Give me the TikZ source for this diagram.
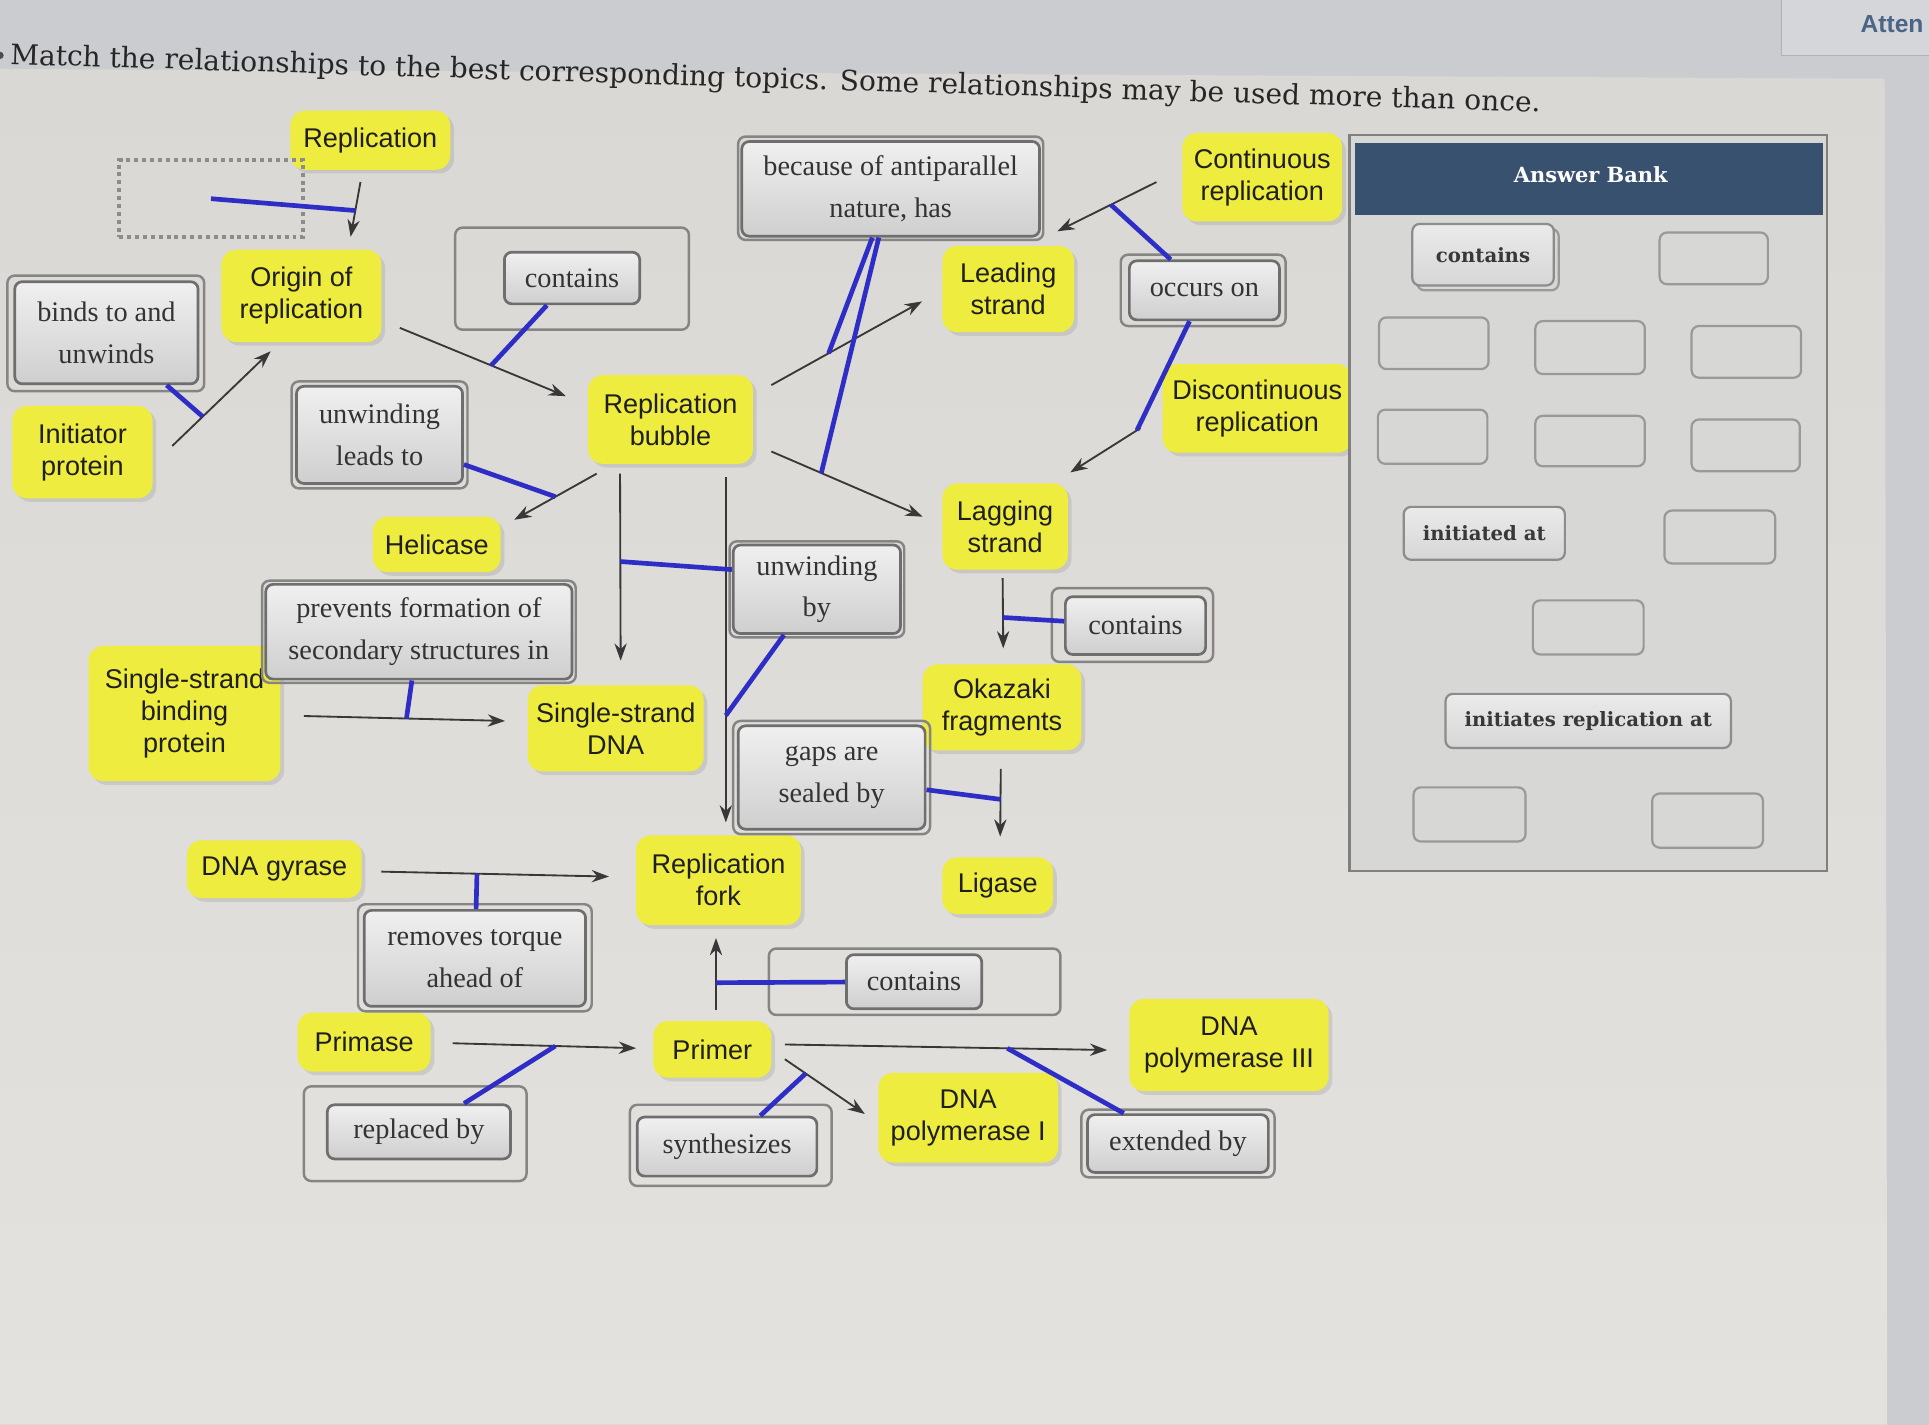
\documentclass[tikz,border=0pt]{standalone}
\usepackage{fontspec}
\setmainfont{Liberation Serif}
\newfontfamily\ysans{Liberation Sans}
\newfontfamily\dvserif{DejaVu Serif}
\usetikzlibrary{calc,shadows,arrows.meta}
\definecolor{ybox}{HTML}{EEEC3F}
\definecolor{bline}{HTML}{2E2EC6}
\definecolor{aline}{HTML}{383838}
\definecolor{navy}{HTML}{37516F}
\definecolor{bgtop}{HTML}{CBCCCF}
\definecolor{panelA}{HTML}{D9D8D4}
\definecolor{panelB}{HTML}{E3E2DF}
\definecolor{framec}{HTML}{858585}
\definecolor{cardb}{HTML}{6E6E6E}
\definecolor{bankbg}{HTML}{D7D7D6}
\definecolor{attc}{HTML}{4A6587}
\begin{document}
\begin{tikzpicture}[x=0.5pt,y=-0.5pt,
  sz/.style 2 args={minimum width=#1pt, minimum height=#2pt},
  yel/.style={fill=ybox, rounded corners=6pt, inner sep=0pt, align=center, text=black!88,
    font=\ysans\fontsize{11}{13}\selectfont,
    drop shadow={opacity=0.22, shadow xshift=1.5pt, shadow yshift=-1.5pt}},
  frm/.style={draw=framec, line width=1pt, rounded corners=3pt, inner sep=0pt},
  crd/.style={draw=cardb, line width=1.1pt, rounded corners=3pt, inner sep=0pt,
    top color=black!6, bottom color=black!19, align=center, text=black!80,
    font=\fontsize{11.5}{17}\selectfont},
  arr/.style={draw=aline, line width=0.75pt, -{Stealth[length=7pt,width=5pt]}},
  bl/.style={draw=bline, line width=1.9pt},
  ebox/.style={draw=black!40, line width=0.9pt, rounded corners=3pt},
  bank/.style={draw=black!45, line width=0.9pt, rounded corners=3pt, inner sep=0pt,
    top color=black!8, bottom color=black!16, text=black!78,
    font=\dvserif\bfseries\fontsize{8}{10}\selectfont}]
\useasboundingbox (0,0) rectangle (1568,1158);
% background
\fill[bgtop] (0,0) rectangle (1568,1158);
\shade[top color=panelA, bottom color=panelB] (0,56) -- (1532,64) -- (1534,1158) -- (0,1158) -- cycle;
\draw[draw=black!30, fill=bgtop!80!white] (1448,-5) rectangle (1600,45);
\node[anchor=west, font=\ysans\bfseries\fontsize{10}{12}\selectfont, text=attc, inner sep=0pt] (att) at (1512,20) {Atten};
\fill[black!70] (0,45) circle (3);
\node[anchor=west, rotate=-1.8, font=\dvserif\fontsize{11.4}{13}\selectfont, text=black!85, inner sep=0pt] (title) at (8,46)
  {Match the relationships to the best corresponding topics. Some relationships may be used more than once.};

% concept nodes
\node[yel, sz={65}{24}] (rep) at (301,114) {Replication};
\node[yel, sz={65}{37.5}] (ori) at (245,240.5) {Origin of\\replication};
\node[yel, sz={57}{37.5}] (ini) at (67,367.5) {Initiator\\protein};
\node[yel, sz={67}{36}] (bub) at (545,341) {Replication\\bubble};
\node[yel, sz={52}{22.5}] (hel) at (355,442.5) {Helicase};
\node[yel, sz={78}{55}] (ssb) at (150,580) {Single-strand\\binding\\protein};
\node[yel, sz={71.5}{35}] (ssd) at (500.5,592) {Single-strand\\DNA};
\node[yel, sz={71}{23.5}] (gyr) at (223,706.5) {DNA gyrase};
\node[yel, sz={67}{36.5}] (fork) at (584,715.5) {Replication\\fork};
\node[yel, sz={54}{24}] (prim) at (296,847) {Primase};
\node[yel, sz={48}{23}] (primer) at (579,853) {Primer};
\node[yel, sz={73}{36.5}] (pol1) at (787,908.5) {DNA\\polymerase I};
\node[yel, sz={81}{37.5}] (pol3) at (999,849.5) {DNA\\polymerase III};
\node[yel, sz={53.5}{35}] (lead) at (819.5,235) {Leading\\strand};
\node[yel, sz={51}{35}] (lag) at (817,428) {Lagging\\strand};
\node[yel, sz={65}{36}] (cont) at (1026,144) {Continuous\\replication};
\node[yel, sz={77}{36}] (disc) at (1022,332) {Discontinuous\\replication};
\node[yel, sz={64.5}{35}] (oka) at (814.5,575) {Okazaki\\fragments};
\node[yel, sz={45}{23}] (lig) at (811,720) {Ligase};

% relation boxes
\node[frm, sz={74.5}{31.5}, draw=black!45, rounded corners=0pt, line width=1.6pt, dash pattern=on 1.6pt off 1.6pt] (dot) at (171.5,161.5) {};
\node[frm, sz={95}{41.5}] (c1f) at (465,226.5) {};
\node[crd, sz={55}{21}] (c1) at (465,226) {contains};
\node[frm, sz={80}{47}] (bindsf) at (86,271) {};
\node[crd, sz={74.5}{41.5}] (binds) at (86.5,270.5) {binds to and\\unwinds};
\node[frm, sz={71.5}{43.5}] (unwleadf) at (308.5,353.5) {};
\node[crd, sz={67.5}{39.5}] (unwlead) at (308.5,353.5) {unwinding\\leads to};
\node[frm, sz={124}{42}] (becf) at (724,153) {};
\node[crd, sz={121}{38.5}] (bec) at (724,153.5) {because of antiparallel\\nature, has};
\node[frm, sz={67}{29}] (occf) at (978,236) {};
\node[crd, sz={61}{24}] (occ) at (979,236) {occurs on};
\node[frm, sz={71}{39}] (unwbyf) at (664,479) {};
\node[crd, sz={68}{36}] (unwby) at (664,479) {unwinding\\by};
\node[frm, sz={127.5}{41.5}] (prevf) at (340.5,513.5) {};
\node[crd, sz={124.5}{38.5}] (prev) at (340.5,513.5) {prevents formation of\\secondary structures in};
\node[frm, sz={65.5}{30}] (c2f) at (920.5,508) {};
\node[crd, sz={57}{23.5}] (c2) at (923,508.5) {contains};
\node[frm, sz={80}{46}] (gapsf) at (676,632) {};
\node[crd, sz={76}{42}] (gaps) at (676,632) {gaps are\\sealed by};
\node[frm, sz={95}{43.5}] (torqf) at (386,778.5) {};
\node[crd, sz={90}{39}] (torq) at (386,779) {removes torque\\ahead of};
\node[frm, sz={118.5}{27}] (c3f) at (743.5,798) {};
\node[crd, sz={55}{22}] (c3) at (743,798) {contains};
\node[frm, sz={90.5}{38.5}] (replf) at (337.5,921.5) {};
\node[crd, sz={74.5}{22}] (repl) at (340.5,920) {replaced by};
\node[frm, sz={82}{33}] (synf) at (594,931) {};
\node[crd, sz={73}{24}] (syn) at (591,932) {synthesizes};
\node[frm, sz={78.5}{27.5}] (extf) at (957.5,929.5) {};
\node[crd, sz={73.5}{23.5}] (ext) at (957.5,929.5) {extended by};

% arrows
\draw[arr] ($(rep)+(-8,34)$) -- coordinate[pos=.52] (m1) ($(ori)+(40,-48)$);
\draw[arr] ($(ini)+(73,-5)$) -- coordinate[pos=.31] (m2) ($(ori)+(-25,45)$);
\draw[arr] ($(ori)+(80,26)$) -- coordinate[pos=.55] (m3) ($(bub)+(-85,-19)$);
\draw[arr] ($(bub)+(-60,44)$) -- coordinate[pos=.5] (m4) ($(hel)+(63,-20)$);
\draw[arr] ($(bub)+(82,-28)$) -- coordinate[pos=.38] (m5) ($(lead)+(-70,10)$);
\draw[arr] ($(bub)+(82,26)$) -- coordinate[pos=.33] (m6) ($(lag)+(-67,-8)$);
\draw[arr] ($(cont)+(-86,4)$) -- coordinate[pos=.46] (m7) ($(lead)+(40,-47)$);
\draw[arr] ($(disc)+(-95,16)$) -- coordinate[pos=.05] (m8) ($(lag)+(53,-44)$);
\draw[arr] ($(bub)+(-41,44)$) -- coordinate[pos=.47] (m9) ($(ssd)+(4,-55)$);
\draw[arr] ($(bub)+(45,47)$) -- coordinate[pos=.69] (m10) ($(fork)+(6,-47)$);
\draw[arr] ($(ssb)+(97,2)$) -- coordinate[pos=.51] (m11) ($(ssd)+(-90,-6)$);
\draw[arr] ($(gyr)+(87,2)$) -- coordinate[pos=.42] (m12) ($(fork)+(-89,-3)$);
\draw[arr] ($(prim)+(72,1)$) -- coordinate[pos=.56] (m13) ($(primer)+(-62,-1)$);
\draw[arr] ($(primer)+(59,-4)$) -- coordinate[pos=.69] (m14) ($(pol3)+(-99,4)$);
\draw[arr] ($(primer)+(59,8)$) -- coordinate[pos=.26] (m15) ($(pol1)+(-84,-3)$);
\draw[arr] ($(primer)+(3,-32)$) -- coordinate[pos=.38] (m16) ($(fork)+(-2,47)$);
\draw[arr] ($(lag)+(-2,42)$) -- coordinate[pos=.56] (m17) ($(oka)+(1,-48)$);
\draw[arr] ($(oka)+(-1,50)$) -- coordinate[pos=.45] (m18) ($(lig)+(2,-40)$);

% blue links
\draw[bl] (dot.center) -- (m1);
\draw[bl] (binds) -- (m2);
\draw[bl] (c1) -- (m3);
\draw[bl] (unwlead) -- (m4);
\draw[bl] (bec) -- (m5);
\draw[bl] (bec) -- (m6);
\draw[bl] (occ) -- (m7);
\draw[bl] (occ) -- (m8);
\draw[bl] ($(unwby.west)+(0,-16)$) -- (m9);
\draw[bl] (unwby) -- (m10);
\draw[bl] (prev) -- (m11);
\draw[bl] (torq) -- (m12);
\draw[bl] (repl) -- (m13);
\draw[bl] (ext) -- (m14);
\draw[bl] (syn) -- (m15);
\draw[bl] (c3) -- (m16);
\draw[bl] (c2) -- (m17);
\draw[bl] (gaps) -- (m18);

% answer bank
\draw[draw=black!50, line width=0.9pt, fill=bankbg] (1097,110) rectangle (1485,708);
\fill[navy] (1101,116) rectangle (1482,175);
\node[font=\dvserif\bfseries\fontsize{8.5}{10}\selectfont, text=white] (bankh) at (1293,142) {Answer Bank};
\draw[ebox, fill=bankbg] (1152,186) rectangle (1267,236);
\node[bank, sz={57.5}{25}] (bk1) at (1205.5,207) {contains};
\node[bank, sz={65.5}{21.5}] (bk2) at (1206.5,433.5) {initiated at};
\node[bank, sz={116}{22}] (bk3) at (1291,586) {initiates replication at};
\foreach \a/\b/\c/\d in {1349/189/1437/231, 1121/258/1210/300, 1248/261/1337/304, 1375/265/1464/307,
  1120/333/1209/377, 1248/338/1337/379, 1375/341/1463/383, 1353/415/1443/458,
  1246/488/1336/532, 1149/640/1240/684, 1343/645/1433/689}
  \draw[ebox] (\a,\b) rectangle (\c,\d);
\end{tikzpicture}
\end{document}
